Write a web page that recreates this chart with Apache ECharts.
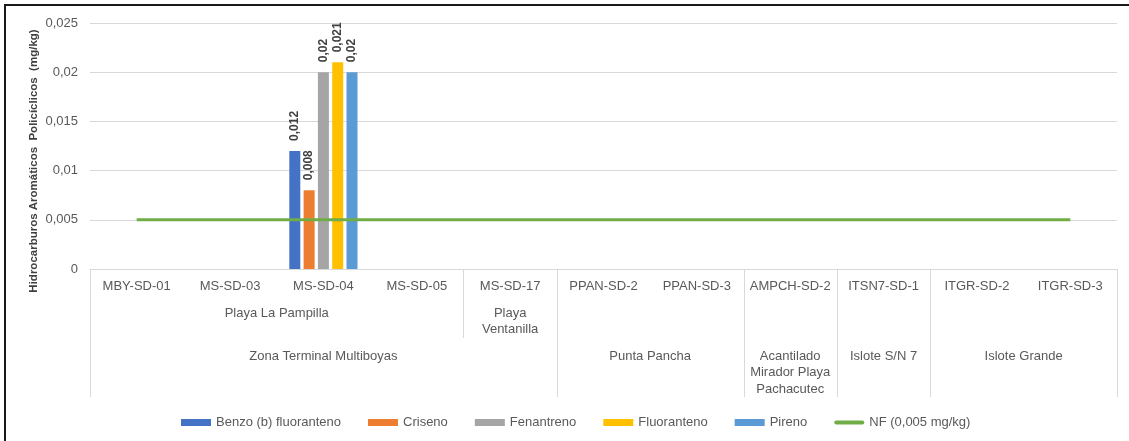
<!DOCTYPE html>
<html>
<head>
<meta charset="utf-8">
<script src="https://cdn.jsdelivr.net/npm/echarts@6/dist/echarts.min.js"></script>
<style>
  html, body { margin: 0; padding: 0; background: #fff; }
  #chart { width: 1129px; height: 441px; }
</style>
</head>
<body>
<div id="chart"></div>
<script>
// Sampling stations (innermost category level)
const categories = ['MBY-SD-01', 'MS-SD-03', 'MS-SD-04', 'MS-SD-05', 'MS-SD-17',
  'PPAN-SD-2', 'PPAN-SD-3', 'AMPCH-SD-2', 'ITSN7-SD-1', 'ITGR-SD-2', 'ITGR-SD-3'];

// Second level: beach / sector (first..last station index)
const sectors = [
  { label: 'Playa La Pampilla', first: 0, last: 3 },
  { label: 'Playa\nVentanilla', first: 4, last: 4 }
];

// Third level: zone
const zones = [
  { label: 'Zona Terminal Multiboyas', first: 0, last: 4 },
  { label: 'Punta Pancha', first: 5, last: 6 },
  { label: 'Acantilado\nMirador Playa\nPachacutec', first: 7, last: 7 },
  { label: 'Islote S/N 7', first: 8, last: 8 },
  { label: 'Islote Grande', first: 9, last: 10 }
];

// Concentrations (mg/kg); null = not detected
const benzoB = [null, null, 0.012, null, null, null, null, null, null, null, null];
const criseno = [null, null, 0.008, null, null, null, null, null, null, null, null];
const fenantreno = [null, null, 0.02, null, null, null, null, null, null, null, null];
const fluoranteno = [null, null, 0.021, null, null, null, null, null, null, null, null];
const pireno = [null, null, 0.02, null, null, null, null, null, null, null, null];
// Reference level NF (0,005 mg/kg)
const nfLevel = [0.005, 0.005, 0.005, 0.005, 0.005, 0.005, 0.005, 0.005, 0.005, 0.005, 0.005];

const yTicks = { min: 0, max: 0.025, interval: 0.005 };

const FONT = "'Liberation Sans', Arial, sans-serif";
const TXT = '#595959';
const RULE = '#d9d9d9';

const comma = v => String(+Number(v).toFixed(3)).replace('.', ',');

function barSeries(name, data, color) {
  return {
    name, type: 'bar', data,
    barWidth: 11, barGap: '30%',
    itemStyle: { color },
    label: {
      show: true, position: 'top', rotate: 90, distance: 10,
      align: 'left', verticalAlign: 'middle',
      fontFamily: FONT, fontSize: 12, fontWeight: 'bold', color: '#404040',
      formatter: p => comma(p.value)
    }
  };
}

const chart = echarts.init(document.getElementById('chart'), null, { renderer: 'canvas' });

chart.setOption({
  animation: false,
  textStyle: { fontFamily: FONT },
  grid: { left: 90, right: 12, top: 23, bottom: 172, containLabel: false },
  legend: {
    left: 176, top: 411,
    itemWidth: 30, itemHeight: 7, itemGap: 27,
    textStyle: { fontFamily: FONT, fontSize: 13, color: TXT },
    data: [
      { name: 'Benzo (b) fluoranteno', icon: 'rect' },
      { name: 'Criseno', icon: 'rect' },
      { name: 'Fenantreno', icon: 'rect' },
      { name: 'Fluoranteno', icon: 'rect' },
      { name: 'Pireno', icon: 'rect' },
      { name: 'NF (0,005 mg/kg)', icon: 'path://M2,0H28A2,2 0 0 1 28,4H2A2,2 0 0 1 2,0Z' }
    ]
  },
  xAxis: {
    type: 'category', data: categories,
    axisLine: { lineStyle: { color: RULE, width: 1 } },
    axisTick: { show: false },
    axisLabel: { interval: 0, margin: 11, fontFamily: FONT, fontSize: 13, color: TXT }
  },
  yAxis: {
    type: 'value', min: yTicks.min, max: yTicks.max, interval: yTicks.interval,
    axisLine: { show: false }, axisTick: { show: false },
    splitLine: { lineStyle: { color: RULE, width: 1 } },
    axisLabel: { margin: 12, fontFamily: FONT, fontSize: 13, color: TXT, formatter: v => v === 0 ? '0' : comma(v) }
  },
  series: [
    barSeries('Benzo (b) fluoranteno', benzoB, '#4472C4'),
    barSeries('Criseno', criseno, '#ED7D31'),
    barSeries('Fenantreno', fenantreno, '#A5A5A5'),
    barSeries('Fluoranteno', fluoranteno, '#FFC000'),
    barSeries('Pireno', pireno, '#5B9BD5'),
    {
      name: 'NF (0,005 mg/kg)', type: 'line', data: nfLevel,
      symbol: 'none', z: 5,
      lineStyle: { color: '#70AD47', width: 3 },
      itemStyle: { color: '#70AD47' }
    }
  ]
});

// Multi-level category box: separators and group labels placed from the axis scale
function drawGroups() {
  const cx = i => chart.convertToPixel({ xAxisIndex: 0 }, i);
  const band = cx(1) - cx(0);
  const edgeL = i => cx(i) - band / 2;
  const edgeR = i => cx(i) + band / 2;
  const y0 = chart.convertToPixel({ yAxisIndex: 0 }, 0);
  const lvl2Bottom = y0 + 69;
  const boxBottom = y0 + 128;
  const els = [];

  const vline = (x, y1, y2) => els.push({
    type: 'line', silent: true,
    shape: { x1: Math.round(x) + 0.5, y1: y1, x2: Math.round(x) + 0.5, y2: y2 },
    style: { stroke: RULE, lineWidth: 1 }
  });
  const label = (text, x, y) => els.push({
    type: 'text', silent: true,
    style: { text, x, y, align: 'center', verticalAlign: 'top',
      fontFamily: FONT, fontSize: 13, fill: TXT, lineHeight: 16.5 }
  });

  // zone boundaries run the full height of the box
  zones.forEach(z => { vline(edgeL(z.first), y0, boxBottom); });
  vline(edgeR(zones[zones.length - 1].last), y0, boxBottom);
  // sector boundaries inside a zone stop below the second row
  sectors.forEach((s, k) => {
    if (k > 0 && !zones.some(z => z.first === s.first)) vline(edgeL(s.first), y0, lvl2Bottom);
  });

  sectors.forEach(s => label(s.label, (edgeL(s.first) + edgeR(s.last)) / 2, y0 + 36));
  zones.forEach(z => label(z.label, (edgeL(z.first) + edgeR(z.last)) / 2, y0 + 79));

  // vertical axis title
  els.push({
    type: 'text', silent: true, x: 34, y: 161, rotation: Math.PI / 2,
    style: { text: 'Hidrocarburos Aromáticos  Policíclicos  (mg/kg)', align: 'center', verticalAlign: 'middle',
      fontFamily: FONT, fontSize: 11.5, fontWeight: 'bold', fill: '#404040' }
  });

  // outer frame (top and left edges visible)
  els.push({
    type: 'rect', silent: true,
    shape: { x: 5, y: 5, width: 1200, height: 500 },
    style: { fill: 'none', stroke: '#1a1a1a', lineWidth: 2 }
  });

  chart.setOption({ graphic: els });
}
drawGroups();
</script>
</body>
</html>
